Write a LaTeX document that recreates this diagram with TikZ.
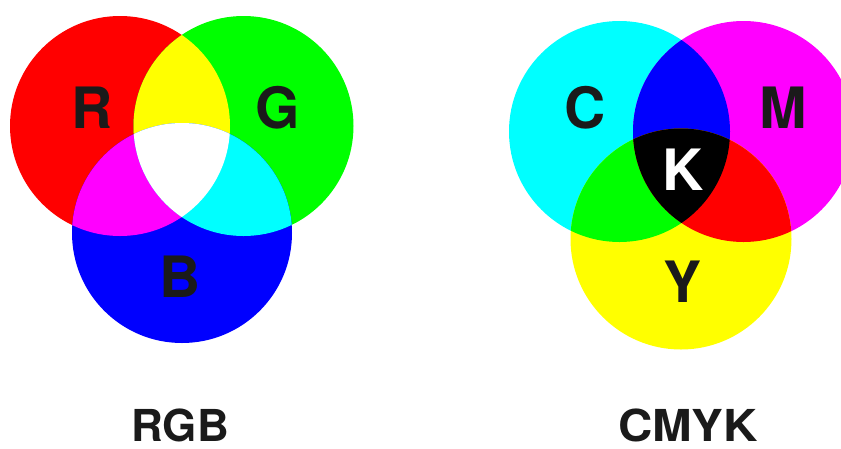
\documentclass[tikz,border=0pt]{standalone}
\usepackage{fontspec}
\setmainfont{TeX Gyre Heros}
\definecolor{cR}{RGB}{255,0,0}
\definecolor{cG}{RGB}{0,255,0}
\definecolor{cB}{RGB}{0,0,255}
\definecolor{cC}{RGB}{0,255,255}
\definecolor{cM}{RGB}{255,0,255}
\definecolor{cY}{RGB}{255,255,0}
\definecolor{ink}{RGB}{26,26,26}
\begin{document}
\begin{tikzpicture}[x=1pt,y=-1pt,
  bigletter/.style={font=\fontsize{57}{57}\selectfont\bfseries, text=ink, inner sep=0pt},
  title/.style={font=\fontsize{44}{44}\selectfont\bfseries, text=ink, inner sep=0pt}]
\useasboundingbox (0,0) rectangle (841,448);
\fill[white] (0,0) rectangle (841,448);
% ---------- RGB ----------
\def\Rc{(120,126) circle[radius=110pt]}
\def\Gc{(243.5,126) circle[radius=110pt]}
\def\Bc{(182,233) circle[radius=110pt]}
\fill[cR] \Rc;
\fill[cG] \Gc;
\fill[cB] \Bc;
\begin{scope}\clip \Rc; \fill[cY] \Gc; \end{scope}
\begin{scope}\clip \Rc; \fill[cM] \Bc; \end{scope}
\begin{scope}\clip \Gc; \fill[cC] \Bc; \end{scope}
\begin{scope}\clip \Rc; \clip \Gc; \fill[white] \Bc; \end{scope}
\node[bigletter] (lR) at (92,108) {R};
\node[bigletter] (lG) at (278,108) {G};
\node[bigletter] (lB) at (180,277) {B};
% ---------- CMYK ----------
\def\Cc{(619.5,131.5) circle[radius=110.5pt]}
\def\Mc{(743.5,131.5) circle[radius=110.5pt]}
\def\Yc{(681,239) circle[radius=110.5pt]}
\fill[cC] \Cc;
\fill[cM] \Mc;
\fill[cY] \Yc;
\begin{scope}\clip \Cc; \fill[cB] \Mc; \end{scope}
\begin{scope}\clip \Cc; \fill[cG] \Yc; \end{scope}
\begin{scope}\clip \Mc; \fill[cR] \Yc; \end{scope}
\begin{scope}\clip \Cc; \clip \Mc; \fill[black] \Yc; \end{scope}
\node[bigletter] (lC) at (585,108) {C};
\node[bigletter] (lM) at (783,108) {M};
\node[bigletter, text=white] (lK) at (683,170) {K};
\node[bigletter] (lY) at (683,282) {Y};
% ---------- titles ----------
\node[title] (tRGB) at (180,425) {RGB};
\node[title, xscale=1.08] (tCMYK) at (688,425) {CMYK};
\end{tikzpicture}
\end{document}
